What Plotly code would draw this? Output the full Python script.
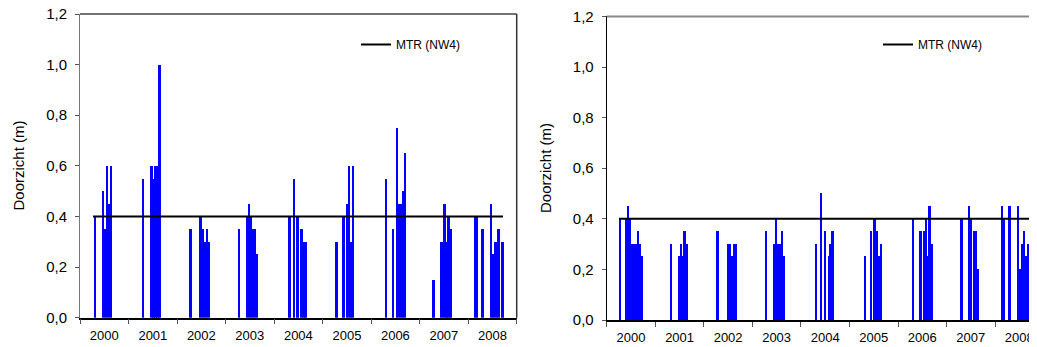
import plotly.graph_objects as go

# ---------------- data ----------------
left_dates = [
    "2000-04-26", "2000-06-24", "2000-07-07", "2000-07-24", "2000-08-06", "2000-08-21",
    "2001-04-21", "2001-06-24", "2001-07-09", "2001-07-24", "2001-08-08", "2001-08-23",
    "2002-04-15", "2002-06-29", "2002-07-15", "2002-07-30", "2002-08-14", "2002-08-29",
    "2003-04-13", "2003-06-15", "2003-06-30", "2003-07-15", "2003-07-30", "2003-08-14", "2003-08-29",
    "2004-04-27", "2004-06-01", "2004-06-27", "2004-07-27", "2004-08-11", "2004-08-26",
    "2005-04-18", "2005-06-08", "2005-07-03", "2005-07-18", "2005-08-02", "2005-08-17",
    "2006-04-24", "2006-06-18", "2006-07-18", "2006-08-02", "2006-08-15", "2006-08-29", "2006-09-14",
    "2007-04-18", "2007-06-17", "2007-07-09", "2007-07-24", "2007-08-08", "2007-08-23",
    "2008-02-22", "2008-03-09", "2008-04-20", "2008-06-22", "2008-07-07", "2008-07-22",
    "2008-08-06", "2008-08-20", "2008-09-18",
]
left_values = [
    0.40, 0.50, 0.35, 0.60, 0.45, 0.60,
    0.55, 0.60, 0.55, 0.60, 0.60, 1.00,
    0.35, 0.40, 0.35, 0.30, 0.35, 0.30,
    0.35, 0.40, 0.45, 0.40, 0.35, 0.35, 0.25,
    0.40, 0.55, 0.40, 0.35, 0.30, 0.30,
    0.30, 0.40, 0.45, 0.60, 0.30, 0.60,
    0.55, 0.35, 0.75, 0.45, 0.45, 0.50, 0.65,
    0.15, 0.30, 0.45, 0.30, 0.40, 0.35,
    0.40, 0.40, 0.35, 0.45, 0.25, 0.30,
    0.30, 0.35, 0.30,
]

right_dates = [
    "2000-04-10", "2000-05-25", "2000-06-09", "2000-06-24", "2000-07-09", "2000-07-24",
    "2000-08-08", "2000-08-23", "2000-09-07", "2000-09-22",
    "2001-04-27", "2001-06-28", "2001-07-13", "2001-07-26", "2001-08-07", "2001-08-23",
    "2002-04-14", "2002-07-01", "2002-07-16", "2002-07-31", "2002-08-15", "2002-08-30",
    "2003-04-13", "2003-06-12", "2003-06-27", "2003-07-12", "2003-07-27", "2003-08-11", "2003-08-26",
    "2004-04-23", "2004-06-01", "2004-06-29", "2004-07-29", "2004-08-11", "2004-08-25",
    "2005-04-27", "2005-06-11", "2005-07-09", "2005-07-24", "2005-08-08", "2005-08-26",
    "2006-04-25", "2006-06-20", "2006-07-17", "2006-08-01", "2006-08-14", "2006-08-27", "2006-09-10",
    "2007-04-24", "2007-06-20", "2007-07-05", "2007-07-28", "2007-08-12", "2007-08-27",
    "2008-02-24", "2008-03-08", "2008-04-20", "2008-06-24", "2008-07-07", "2008-07-22",
    "2008-08-06", "2008-08-21", "2008-09-05",
]
right_values = [
    0.40, 0.40, 0.45, 0.40, 0.30, 0.30,
    0.30, 0.35, 0.30, 0.25,
    0.30, 0.25, 0.30, 0.25, 0.35, 0.30,
    0.35, 0.30, 0.30, 0.25, 0.30, 0.30,
    0.35, 0.30, 0.40, 0.30, 0.30, 0.35, 0.25,
    0.30, 0.50, 0.35, 0.25, 0.30, 0.35,
    0.25, 0.35, 0.40, 0.35, 0.25, 0.30,
    0.40, 0.35, 0.35, 0.40, 0.25, 0.45, 0.30,
    0.40, 0.45, 0.40, 0.35, 0.35, 0.20,
    0.45, 0.40, 0.45, 0.45, 0.20, 0.30,
    0.35, 0.25, 0.30,
]

mtr_label = "MTR (NW4)"
mtr_value = 0.4
left_mtr_dates = ["2000-04-08", "2008-09-20"]
right_mtr_dates = ["2000-04-03", "2008-09-15"]

y_title = "Doorzicht (m)"
y_ticks = [0.0, 0.2, 0.4, 0.6, 0.8, 1.0, 1.2]

# ---------------- figure ----------------
# the page body has an 8px margin, so the figure is 8px smaller than the window
W, H = 1029, 339
FONT = "Liberation Sans, Arial, sans-serif"
BAR_W = 14 * 86400000  # ms
BLUE = "#0000FF"

fig = go.Figure()

fig.add_trace(go.Bar(x=left_dates, y=left_values, width=BAR_W, marker=dict(color=BLUE, line=dict(width=0)),
                     showlegend=False, xaxis="x", yaxis="y"))
fig.add_trace(go.Scatter(x=left_mtr_dates, y=[mtr_value] * 2, mode="lines", name=mtr_label,
                         line=dict(color="black", width=2), xaxis="x", yaxis="y", legend="legend"))

fig.add_trace(go.Bar(x=right_dates, y=right_values, width=BAR_W, marker=dict(color=BLUE, line=dict(width=0)),
                     showlegend=False, xaxis="x2", yaxis="y2"))
fig.add_trace(go.Scatter(x=right_mtr_dates, y=[mtr_value] * 2, mode="lines", name=mtr_label,
                         line=dict(color="black", width=2), xaxis="x2", yaxis="y2", legend="legend2"))


def xaxis(domain, rng, anchor):
    return dict(domain=domain, anchor=anchor, type="date", range=rng, automargin=False,
                dtick="M12", tick0="2000-01-01", ticklabelmode="period", tickformat="%Y",
                ticklabeloverflow="allow",
                ticks="outside", ticklen=5, tickcolor="#555", tickwidth=1,
                showline=True, linecolor="black", linewidth=1.5, mirror=False,
                showgrid=False, zeroline=False,
                tickfont=dict(family=FONT, size=13, color="black"))


def yaxis(domain, anchor, linecolor):
    return dict(domain=domain, anchor=anchor, range=[0, 1.2], tickvals=y_ticks, tickformat=".1f",
                automargin=False, ticklabelstandoff=5, ticklabeloverflow="allow",
                ticks="outside", ticklen=4, tickcolor="#555", tickwidth=1,
                showline=True, linecolor=linecolor, linewidth=1, mirror=False,
                showgrid=False, zeroline=False,
                tickfont=dict(family=FONT, size=15, color="black"))


shapes = [
    # left chart frame: top and right border
    dict(type="line", xref="x domain", yref="y domain", x0=0, x1=1, y0=1, y1=1,
         line=dict(color="#444", width=1.5)),
    dict(type="line", xref="x domain", yref="y domain", x0=1, x1=1, y0=0, y1=1,
         line=dict(color="#333", width=1.5)),
    # right chart frame: top border
    dict(type="line", xref="x2 domain", yref="y2 domain", x0=0, x1=1, y0=1, y1=1,
         line=dict(color="#888", width=2)),
]

fig.update_layout(
    width=W, height=H,
    margin=dict(l=0, r=0, t=0, b=0, autoexpand=False),
    paper_bgcolor="white", plot_bgcolor="white",
    separators=",.",
    bargap=0,
    font=dict(family=FONT, color="black"),
    xaxis=xaxis([72 / W, 508.7 / W], ["2000-01-01", "2009-01-01"], "y"),
    yaxis=yaxis([29.3 / H, 333 / H], "x", "#777"),
    xaxis2=xaxis([598.7 / W, 1.0], ["2000-01-01", "2008-11-12"], "y2"),
    yaxis2=yaxis([27 / H, 330.6 / H], "x2", "black"),
    shapes=shapes,
    legend=dict(x=348 / W, y=1 - 22 / H, xanchor="left", yanchor="top",
                bgcolor="rgba(0,0,0,0)", font=dict(family=FONT, size=12), itemwidth=30),
    legend2=dict(x=870 / W, y=1 - 22 / H, xanchor="left", yanchor="top",
                 bgcolor="rgba(0,0,0,0)", font=dict(family=FONT, size=12), itemwidth=30),
    annotations=[
        dict(text=y_title, textangle=-90, x=9.5 / W, y=1 - 158 / H, xref="paper", yref="paper",
             xanchor="center", yanchor="middle",
             showarrow=False, font=dict(family=FONT, size=15, color="black")),
        dict(text=y_title, textangle=-90, x=537 / W, y=1 - 160 / H, xref="paper", yref="paper",
             xanchor="center", yanchor="middle",
             showarrow=False, font=dict(family=FONT, size=15, color="black")),
    ],
)

fig.write_html("out.html")
